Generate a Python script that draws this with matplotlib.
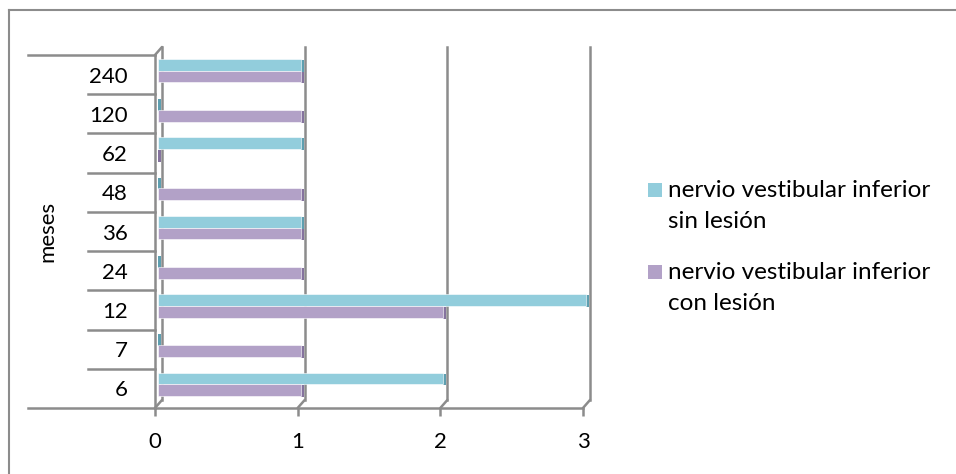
#!/usr/bin/env python3

import matplotlib
matplotlib.use('Agg')
import matplotlib.pyplot as plt
import matplotlib.transforms as mtransforms
from matplotlib.lines import Line2D
from matplotlib.patches import Rectangle

# data
meses = ['6', '7', '12', '24', '36', '48', '62', '120', '240']
sin_lesion = [2, 0, 3, 0, 1, 0, 1, 0, 1]
con_lesion = [1, 1, 2, 1, 1, 1, 0, 1, 1]
x_ticks = [0, 1, 2, 3]
labels = ['nervio vestibular inferior\nsin lesión',
          'nervio vestibular inferior\ncon lesión']

cyan = '#92CDDC'
cyan_dark = '#5E9FB0'
purple = '#B2A1C7'
purple_dark = '#85739E'
gray = '#8C8C8C'

plt.rcParams['font.family'] = ['Lato', 'DejaVu Sans']

W, H = 956, 474
fig = plt.figure(figsize=(W / 100, H / 100), dpi=100)
ax = fig.add_axes([155 / W, 1 - 408 / H, 428 / W, 353 / H])
ax.set_xlim(0, 3)
ax.set_ylim(-0.5, len(meses) - 0.5)

# back wall (3d look): shifted copies of the grid
back = mtransforms.offset_copy(ax.transData, fig, x=7, y=8, units='dots')
top = len(meses) - 0.5
for v in x_ticks:
    ax.plot([v, v], [-0.5, top], color=gray, lw=1.8, transform=back,
            clip_on=False, zorder=1)
    ax.annotate('', xy=(v, -0.5), xytext=(7, 8), textcoords='offset pixels',
                arrowprops=dict(arrowstyle='-', color=gray, lw=1.8,
                                shrinkA=0, shrinkB=0), annotation_clip=False)
ax.annotate('', xy=(0, top), xytext=(7, 8), textcoords='offset pixels',
            arrowprops=dict(arrowstyle='-', color=gray, lw=1.8,
                            shrinkA=0, shrinkB=0), annotation_clip=False)

# bars
h = 0.3
cap = 0.022
shift = mtransforms.offset_copy(ax.transData, fig, x=3, y=0, units='dots')
cap_tr = mtransforms.offset_copy(ax.transData, fig, x=3, y=-1, units='dots')
for i in range(len(meses)):
    for val, yc, col, dark in [(sin_lesion[i], i + 0.25, cyan, cyan_dark),
                               (con_lesion[i], i - 0.05, purple, purple_dark)]:
        if val > 0:
            ax.barh(yc, val, height=h, color=col, edgecolor='white',
                    linewidth=0.4, transform=shift, zorder=3, clip_on=False)
        ax.barh(yc, cap, left=val, height=h, color=dark, linewidth=0,
                transform=cap_tr, zorder=2, clip_on=False)

# spines / ticks
for s in ['top', 'right']:
    ax.spines[s].set_visible(False)
for s in ['left', 'bottom']:
    ax.spines[s].set_color(gray)
    ax.spines[s].set_linewidth(1.8)
ax.set_xticks(x_ticks)
ax.set_xticklabels([str(v) for v in x_ticks], fontsize=16)
ax.tick_params(axis='x', length=6, width=1.8, color=gray, pad=11)
ax.set_yticks(range(len(meses)))
ax.set_yticklabels(meses, fontsize=16)
ax.tick_params(axis='y', length=0, pad=19.5)

# category separators on the left
sep_tr = mtransforms.blended_transform_factory(ax.transAxes, ax.transData)
for k in range(len(meses) + 1):
    yb = k - 0.5
    x0 = -0.297 if k in (0, len(meses)) else -0.1565
    ax.plot([x0, 0], [yb, yb], color=gray, lw=1.8, transform=sep_tr,
            clip_on=False, zorder=1)

ax.set_ylabel('meses', fontsize=16)
ax.yaxis.set_label_coords(-0.228, 0.5)

# legend, Excel style: square next to the first line of each entry
for lab, col, y_first in [(labels[0], cyan, 190), (labels[1], purple, 272)]:
    fig.add_artist(Rectangle(((648) / W, 1 - (y_first + 7) / H), 14 / W, 14 / H,
                             facecolor=col, edgecolor='none',
                             transform=fig.transFigure))
    fig.text(668 / W, 1 - (y_first + 16) / H, lab, fontsize=17.5,
             va='center', ha='left', linespacing=1.6)

# outer chart frame (only left and top visible)
fig.add_artist(Line2D([9 / W, 9 / W], [0, 1 - 10 / H], color=gray, lw=1.5))
fig.add_artist(Line2D([9 / W, 1], [1 - 10 / H, 1 - 10 / H], color=gray, lw=1.5))

fig.savefig('out.png', dpi=100)
